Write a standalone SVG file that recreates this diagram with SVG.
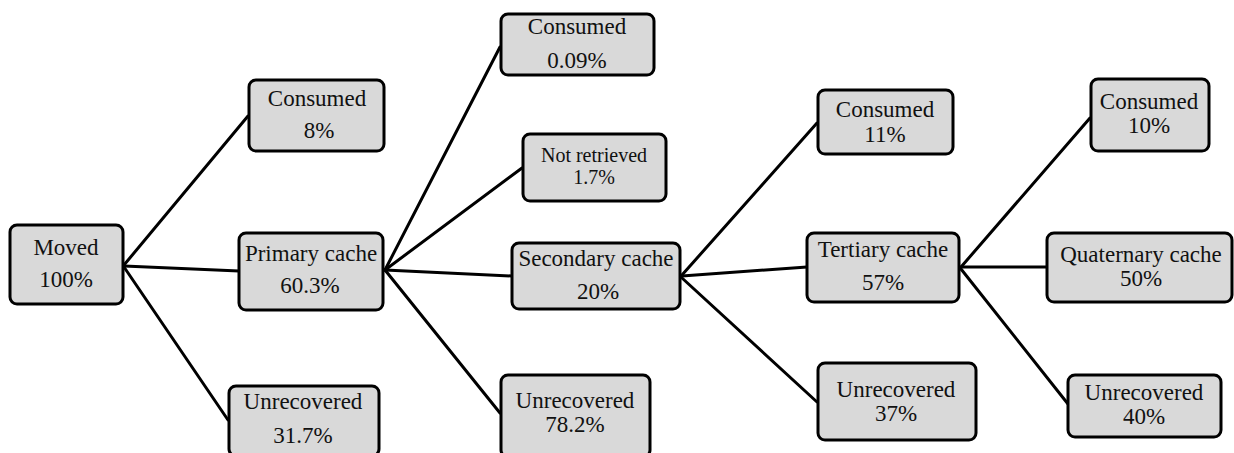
<svg xmlns="http://www.w3.org/2000/svg" width="1234" height="453" viewBox="0 0 1234 453">
<style>
.box{fill:#d9d9d9;stroke:#000;stroke-width:3}
.lbl{font-family:'Liberation Serif','Times New Roman',serif;font-size:23px;fill:#111;text-anchor:middle}
.sm{font-size:20px}
#connectors line{stroke:#000;stroke-width:3;stroke-linecap:round}
</style>
<rect width="1234" height="453" fill="#fff"/>
<g id="connectors">
<line x1="124" y1="265" x2="248" y2="116"/>
<line x1="124" y1="266" x2="239" y2="271"/>
<line x1="124" y1="267" x2="228" y2="420"/>
<line x1="385" y1="270" x2="500" y2="47"/>
<line x1="385" y1="270" x2="522" y2="168"/>
<line x1="385" y1="270" x2="512" y2="276"/>
<line x1="385" y1="270" x2="500" y2="413"/>
<line x1="682" y1="275" x2="817" y2="123"/>
<line x1="682" y1="276" x2="807" y2="267"/>
<line x1="682" y1="278" x2="817" y2="402"/>
<line x1="961" y1="267" x2="1090" y2="118"/>
<line x1="961" y1="267" x2="1047" y2="267"/>
<line x1="961" y1="269" x2="1068" y2="404"/>
</g>
<g id="moved"><rect class="box" x="10" y="225" width="113" height="79" rx="7"/><text class="lbl" x="66" y="255">Moved</text><text class="lbl" x="66" y="287">100%</text></g>
<g id="consumed1"><rect class="box" x="249" y="80" width="135" height="71" rx="7"/><text class="lbl" x="317" y="106">Consumed</text><text class="lbl" x="319" y="138">8%</text></g>
<g id="primary"><rect class="box" x="239" y="233" width="144" height="77" rx="7"/><text class="lbl" x="311" y="261">Primary cache</text><text class="lbl" x="310" y="293">60.3%</text></g>
<g id="unrecovered1"><rect class="box" x="229" y="386" width="150" height="70" rx="7"/><text class="lbl" x="303" y="409">Unrecovered</text><text class="lbl" x="303" y="443">31.7%</text></g>
<g id="consumed2"><rect class="box" x="501" y="14" width="153" height="61" rx="7"/><text class="lbl" x="577" y="34">Consumed</text><text class="lbl" x="577" y="68">0.09%</text></g>
<g id="notretrieved"><rect class="box" x="523" y="134" width="143" height="67" rx="7"/><text class="lbl sm" x="594" y="162">Not retrieved</text><text class="lbl sm" x="594" y="184">1.7%</text></g>
<g id="secondary"><rect class="box" x="512" y="243" width="168" height="66" rx="7"/><text class="lbl" x="596" y="266">Secondary cache</text><text class="lbl" x="598" y="299">20%</text></g>
<g id="unrecovered2"><rect class="box" x="501" y="375" width="149" height="82" rx="7"/><text class="lbl" x="575" y="408">Unrecovered</text><text class="lbl" x="575" y="432">78.2%</text></g>
<g id="consumed3"><rect class="box" x="818" y="90" width="135" height="64" rx="7"/><text class="lbl" x="885" y="117">Consumed</text><text class="lbl" x="885" y="142">11%</text></g>
<g id="tertiary"><rect class="box" x="807" y="233" width="152" height="69" rx="7"/><text class="lbl" x="883" y="257">Tertiary cache</text><text class="lbl" x="883" y="290">57%</text></g>
<g id="unrecovered3"><rect class="box" x="818" y="363" width="158" height="77" rx="7"/><text class="lbl" x="896" y="397">Unrecovered</text><text class="lbl" x="896" y="421">37%</text></g>
<g id="consumed4"><rect class="box" x="1091" y="79" width="118" height="72" rx="7"/><text class="lbl" x="1149" y="109">Consumed</text><text class="lbl" x="1149" y="133">10%</text></g>
<g id="quaternary"><rect class="box" x="1047" y="233" width="185" height="69" rx="7"/><text class="lbl" x="1141" y="262">Quaternary cache</text><text class="lbl" x="1141" y="286">50%</text></g>
<g id="unrecovered4"><rect class="box" x="1068" y="375" width="153" height="62" rx="7"/><text class="lbl" x="1144" y="400">Unrecovered</text><text class="lbl" x="1144" y="424">40%</text></g>
</svg>
